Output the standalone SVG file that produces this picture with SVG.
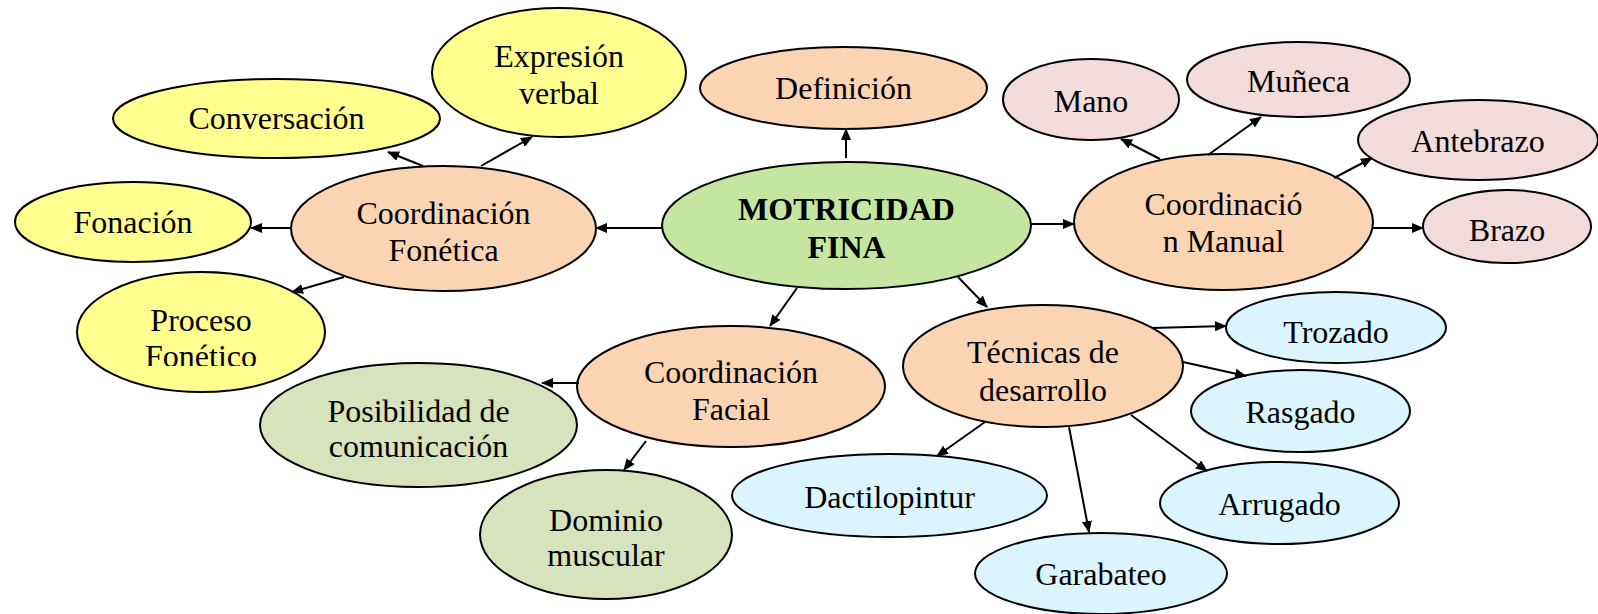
<svg xmlns="http://www.w3.org/2000/svg" width="1598" height="614" viewBox="0 0 1598 614">
<style>
.n{stroke:#000;stroke-width:2}
.y{fill:#FFFF8F}.p{fill:#FBD4B4}.g{fill:#C5E6A0}.k{fill:#F2DBDB}.b{fill:#DBF5FE}.s{fill:#D6E3BC}
text{font-family:"Liberation Serif","Times New Roman",serif;font-size:32px;fill:#000;text-anchor:middle}
.bold{font-weight:bold}
.c line{stroke:#000;stroke-width:2;marker-end:url(#a)}
</style>
<defs>
<marker id="a" markerUnits="userSpaceOnUse" markerWidth="12" markerHeight="10" refX="11" refY="5" orient="auto"><path d="M0,0 L12,5 L0,10 z" fill="#000"/></marker>
<clipPath id="pc"><rect x="0" y="0" width="400" height="366"/></clipPath>
</defs>
<rect width="1598" height="614" fill="#fff"/>
<g id="motricidad"><ellipse class="n g" cx="846.5" cy="225.5" rx="184.5" ry="63.5"/><text class="bold" x="846.5" y="220">MOTRICIDAD</text><text class="bold" x="846.5" y="258">FINA</text></g>
<g id="definicion"><ellipse class="n p" cx="843.5" cy="88" rx="143.5" ry="41"/><text x="843.5" y="99">Definición</text></g>
<g id="fonetica"><ellipse class="n p" cx="443.5" cy="228.5" rx="152.5" ry="62.5"/><text x="443.5" y="224">Coordinación</text><text x="443.5" y="261">Fonética</text></g>
<g id="conversacion"><ellipse class="n y" cx="276.5" cy="118.5" rx="163.5" ry="39.5"/><text x="276.5" y="129">Conversación</text></g>
<g id="expresion"><ellipse class="n y" cx="559" cy="72.5" rx="127" ry="64.5"/><text x="559" y="67">Expresión</text><text x="559" y="104">verbal</text></g>
<g id="fonacion"><ellipse class="n y" cx="133" cy="222" rx="118" ry="40"/><text x="133" y="233">Fonación</text></g>
<g id="proceso"><ellipse class="n y" cx="201" cy="332" rx="124" ry="60"/><g clip-path="url(#pc)"><text x="201" y="331">Proceso</text><text x="201" y="367">Fonético</text></g></g>
<g id="manual"><ellipse class="n p" cx="1223.5" cy="222" rx="149.5" ry="68"/><text x="1223.5" y="215">Coordinació</text><text x="1223.5" y="252">n Manual</text></g>
<g id="mano"><ellipse class="n k" cx="1091" cy="99.5" rx="88" ry="40.5"/><text x="1091" y="112">Mano</text></g>
<g id="muneca"><ellipse class="n k" cx="1298.5" cy="79.5" rx="111.5" ry="37.5"/><text x="1298.5" y="92">Muñeca</text></g>
<g id="antebrazo"><ellipse class="n k" cx="1478" cy="140" rx="120" ry="40"/><text x="1478" y="152">Antebrazo</text></g>
<g id="brazo"><ellipse class="n k" cx="1507" cy="226.5" rx="84" ry="36.5"/><text x="1507" y="241">Brazo</text></g>
<g id="facial"><ellipse class="n p" cx="731" cy="386.5" rx="154" ry="60.5"/><text x="731" y="383">Coordinación</text><text x="731" y="420">Facial</text></g>
<g id="posibilidad"><ellipse class="n s" cx="418.5" cy="425" rx="158.5" ry="62"/><text x="418.5" y="422">Posibilidad de</text><text x="418.5" y="457">comunicación</text></g>
<g id="dominio"><ellipse class="n s" cx="606" cy="534.5" rx="126" ry="64.5"/><text x="606" y="531">Dominio</text><text x="606" y="566">muscular</text></g>
<g id="tecnicas"><ellipse class="n p" cx="1043" cy="366" rx="140" ry="61"/><text x="1043" y="363">Técnicas de</text><text x="1043" y="401">desarrollo</text></g>
<g id="trozado"><ellipse class="n b" cx="1336" cy="327.5" rx="110" ry="35.5"/><text x="1336" y="343">Trozado</text></g>
<g id="rasgado"><ellipse class="n b" cx="1300.5" cy="411" rx="109.5" ry="41"/><text x="1300.5" y="423">Rasgado</text></g>
<g id="dactilopintur"><ellipse class="n b" cx="889.5" cy="495.5" rx="157.5" ry="41.5"/><text x="889.5" y="508">Dactilopintur</text></g>
<g id="garabateo"><ellipse class="n b" cx="1101" cy="573.5" rx="126" ry="40.5"/><text x="1101" y="585">Garabateo</text></g>
<g id="arrugado"><ellipse class="n b" cx="1279.5" cy="503" rx="119.5" ry="41"/><text x="1279.5" y="515">Arrugado</text></g>
<g id="connectors" class="c">
<line x1="846" y1="158" x2="846" y2="129"/>
<line x1="662" y1="228" x2="596" y2="228"/>
<line x1="1031" y1="224" x2="1074" y2="224"/>
<line x1="797" y1="288" x2="770" y2="326"/>
<line x1="958" y1="277" x2="987" y2="307"/>
<line x1="423" y1="166" x2="388" y2="152"/>
<line x1="481" y1="166" x2="532" y2="137"/>
<line x1="291" y1="228" x2="251" y2="228"/>
<line x1="344" y1="277" x2="292" y2="292"/>
<line x1="1160" y1="159" x2="1121" y2="139"/>
<line x1="1208" y1="155" x2="1261" y2="117"/>
<line x1="1334" y1="178" x2="1372" y2="158"/>
<line x1="1373" y1="228" x2="1423" y2="228"/>
<line x1="579" y1="383" x2="542" y2="383"/>
<line x1="646" y1="441" x2="624" y2="470"/>
<line x1="1152" y1="328" x2="1226" y2="326"/>
<line x1="1183" y1="362" x2="1246" y2="376"/>
<line x1="985" y1="422" x2="937" y2="456"/>
<line x1="1069" y1="427" x2="1089" y2="532"/>
<line x1="1131" y1="415" x2="1207" y2="471"/>
</g>
</svg>
